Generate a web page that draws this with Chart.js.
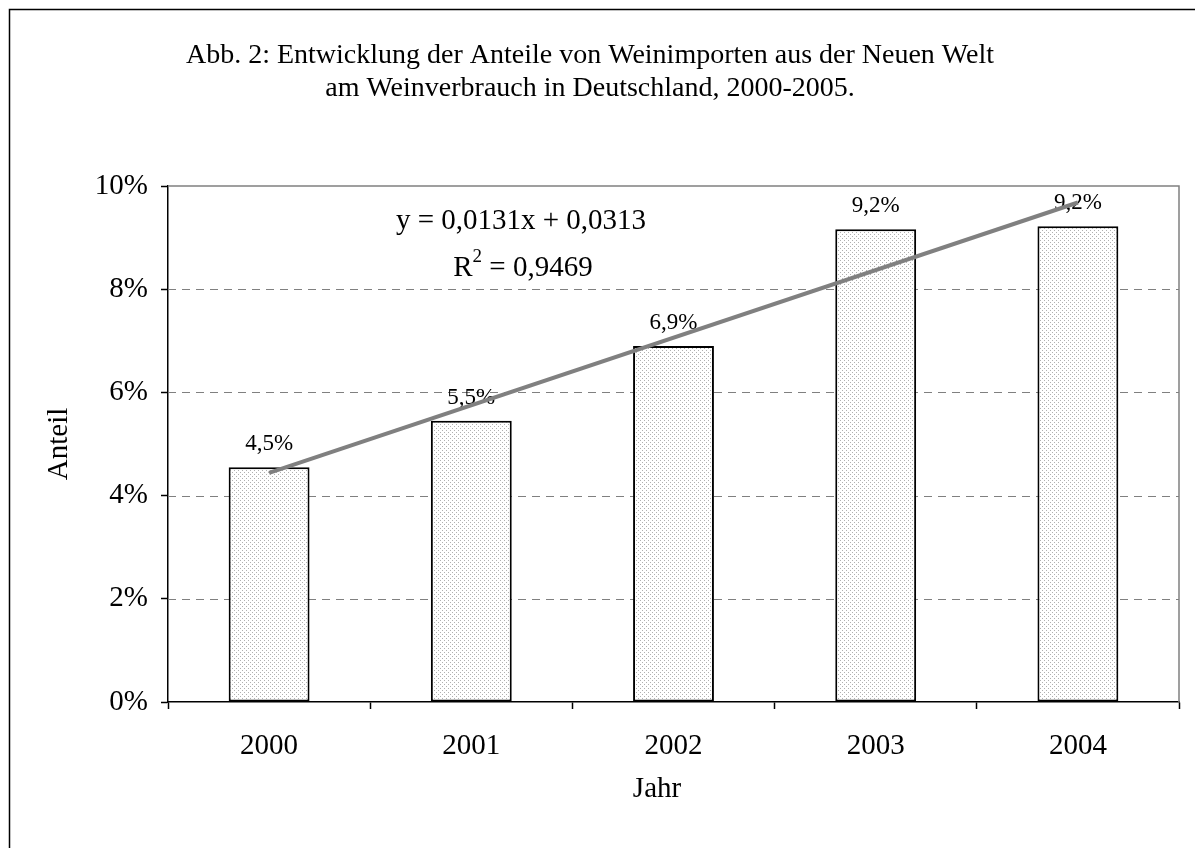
<!DOCTYPE html>
<html>
<head>
<meta charset="utf-8">
<script src="https://cdn.jsdelivr.net/npm/chart.js@4.4.0/dist/chart.umd.min.js"></script>
<style>
  html, body { margin: 0; padding: 0; background: #fff; }
  #wrap { position: relative; width: 1195px; height: 848px; }
</style>
</head>
<body>
<div id="wrap"><canvas id="c" width="1195" height="848"></canvas></div>
<script>
// Daten (Anteile in %)
const years = ['2000', '2001', '2002', '2003', '2004'];
const shares = [4.55, 5.45, 6.9, 9.16, 9.22];
const shareLabels = ['4,5%', '5,5%', '6,9%', '9,2%', '9,2%'];
const trend = [4.44, null, null, null, 9.68];   // Trendlinie, nur Endpunkte
const yTicks = [0, 2, 4, 6, 8, 10];
const titleLines = [
  'Abb. 2: Entwicklung der Anteile von Weinimporten aus der Neuen Welt',
  'am Weinverbrauch in Deutschland, 2000-2005.'
];
const trendEq = 'y = 0,0131x + 0,0313';
const trendR2 = ['R', '2', ' = 0,9469'];

const FONT = "'Liberation Serif', 'Times New Roman', serif";

// Punktraster fuer die Balken
function dotPattern(ctx) {
  const c = document.createElement('canvas');
  c.width = 4; c.height = 4;
  const g = c.getContext('2d');
  g.fillStyle = '#fff';
  g.fillRect(0, 0, 4, 4);
  g.fillStyle = '#b0b0b0';
  g.fillRect(0, 0, 1, 1);
  g.fillRect(2, 2, 1, 1);
  return ctx.createPattern(c, 'repeat');
}

const decor = {
  id: 'decor',
  beforeDraw(chart) {
    const ctx = chart.ctx;
    ctx.save();
    ctx.fillStyle = '#fff';
    ctx.fillRect(0, 0, chart.width, chart.height);
    // Aussenrahmen (links + oben)
    ctx.strokeStyle = '#000';
    ctx.lineWidth = 1.5;
    ctx.beginPath();
    ctx.moveTo(9.5, chart.height);
    ctx.lineTo(9.5, 9.5);
    ctx.lineTo(chart.width, 9.5);
    ctx.stroke();
    ctx.restore();
  },
  beforeDatasetsDraw(chart) {
    const ctx = chart.ctx, a = chart.chartArea, y = chart.scales.y;
    ctx.save();
    ctx.strokeStyle = '#808080';
    ctx.lineWidth = 1;
    ctx.setLineDash([8, 6]);
    yTicks.forEach(v => {
      if (v === 0 || v === 10) return;
      const py = Math.round(y.getPixelForValue(v)) + 0.5;
      ctx.beginPath();
      ctx.moveTo(a.left, py);
      ctx.lineTo(a.right, py);
      ctx.stroke();
    });
    ctx.setLineDash([]);
    ctx.lineWidth = 1.5;
    ctx.beginPath();
    ctx.moveTo(a.left, a.top);
    ctx.lineTo(a.right, a.top);
    ctx.lineTo(a.right, a.bottom);
    ctx.stroke();
    ctx.restore();
  },
  afterDatasetDraw(chart, args) {
    if (args.index !== 0) return;
    const ctx = chart.ctx;
    ctx.save();
    ctx.fillStyle = '#000';
    ctx.font = '23px ' + FONT;
    ctx.textAlign = 'center';
    ctx.textBaseline = 'alphabetic';
    args.meta.data.forEach((bar, i) => {
      ctx.fillText(shareLabels[i], bar.x, bar.y - 17);
    });
    ctx.restore();
  },
  afterDraw(chart) {
    const ctx = chart.ctx, a = chart.chartArea;
    ctx.save();
    ctx.fillStyle = '#000';
    ctx.textAlign = 'center';
    ctx.textBaseline = 'alphabetic';
    ctx.font = '28px ' + FONT;
    ctx.fillText(titleLines[0], 590, 63);
    ctx.fillText(titleLines[1], 590, 96);

    ctx.font = '29px ' + FONT;
    ctx.fillText(trendEq, 521, 229);
    // R mit hochgestellter 2
    const big = '29px ' + FONT, small = '19px ' + FONT;
    ctx.font = big;
    const wR = ctx.measureText(trendR2[0]).width;
    const wRest = ctx.measureText(trendR2[2]).width;
    ctx.font = small;
    const w2 = ctx.measureText(trendR2[1]).width;
    let x = 523 - (wR + w2 + wRest) / 2;
    ctx.textAlign = 'left';
    ctx.font = big;
    ctx.fillText(trendR2[0], x, 276);
    x += wR;
    ctx.font = small;
    ctx.fillText(trendR2[1], x, 262);
    x += w2;
    ctx.font = big;
    ctx.fillText(trendR2[2], x, 276);

    ctx.textAlign = 'center';
    ctx.fillText('Jahr', 657, 797);
    ctx.translate(67, (a.top + a.bottom) / 2);
    ctx.rotate(-Math.PI / 2);
    ctx.fillText('Anteil', 0, 0);
    ctx.restore();
  }
};

const canvas = document.getElementById('c');
const pattern = dotPattern(canvas.getContext('2d'));

new Chart(canvas, {
  type: 'bar',
  data: {
    labels: years,
    datasets: [
      {
        type: 'bar',
        data: shares,
        backgroundColor: pattern,
        borderColor: '#000',
        borderWidth: 2,
        borderSkipped: false,
        categoryPercentage: 1,
        barPercentage: 0.4,
        order: 1
      },
      {
        type: 'line',
        data: trend,
        spanGaps: true,
        borderColor: '#808080',
        borderWidth: 4,
        pointRadius: 0,
        tension: 0,
        order: 0
      }
    ]
  },
  options: {
    responsive: false,
    animation: false,
    devicePixelRatio: 1,
    layout: { padding: { left: 0, top: 186, right: 16, bottom: 0 } },
    plugins: {
      legend: { display: false },
      title: { display: false },
      tooltip: { enabled: false }
    },
    scales: {
      x: {
        offset: true,
        grid: { drawOnChartArea: false, drawTicks: true, tickLength: 7, tickColor: '#000', tickWidth: 1.5 },
        border: { color: '#000', width: 1.5 },
        ticks: { color: '#000', font: { family: FONT, size: 29 }, padding: 20, maxRotation: 0 },
        afterFit(s) { s.height = 146; }
      },
      y: {
        min: 0,
        max: 10,
        afterBuildTicks(s) { s.ticks = yTicks.map(v => ({ value: v })); },
        grid: { drawOnChartArea: false, drawTicks: true, tickLength: 7, tickColor: '#000', tickWidth: 1.5 },
        border: { color: '#000', width: 1.5 },
        ticks: { color: '#000', font: { family: FONT, size: 29 }, padding: 13, callback: v => v + '%' },
        afterFit(s) { s.width = 168; }
      }
    }
  },
  plugins: [decor]
});
</script>
</body>
</html>
